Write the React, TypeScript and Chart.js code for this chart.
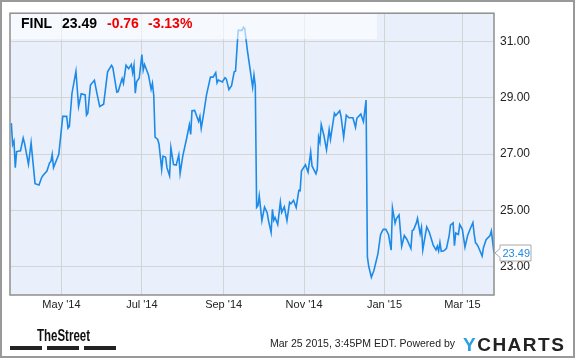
import React, { useEffect, useRef } from "react";
import { Chart, registerables } from "chart.js";

Chart.register(...registerables);

// Day offsets from May 1 2014 (trading-day samples)
const days = [
  -38, -37, -36, -35, -34, -31, -29, -28, -25, -23,
  -20, -17, -15, -14, -11, -9, -8, -7, -6, -2,
  1, 4, 5, 6, 8, 11, 13, 15, 18, 19,
  20, 22, 25, 27, 29, 32, 35, 38, 39, 42,
  43, 46, 47, 49, 51, 53, 54, 55, 56, 57,
  59, 61, 62, 63, 66, 68, 69, 70, 71, 73,
  74, 76, 77, 79, 80, 82, 83, 85, 87, 89,
  90, 92, 95, 97, 98, 99, 101, 104, 105, 106,
  108, 110, 113, 115, 117, 118, 119, 122, 124, 125,
  127, 129, 131, 132, 134, 137, 138, 139, 141, 143,
  145, 146, 147, 148, 149, 150, 152, 154, 156, 157,
  159, 160, 161, 162, 164, 166, 167, 169, 171, 173,
  174, 176, 178, 180, 181, 182, 185, 187, 189, 190,
  193, 194, 195, 196, 197, 199, 201, 203, 204, 207,
  208, 211, 212, 214, 216, 218, 221, 223, 224, 227,
  229, 231, 232, 233, 235, 237, 240, 242, 244, 246,
  248, 250, 251, 253, 254, 256, 257, 258, 260, 262,
  265, 266, 267, 269, 270, 272, 273, 274, 276, 277,
  279, 282, 284, 285, 286, 287, 288, 290, 292, 294,
  295, 297, 298, 299, 301, 302, 304, 306, 308, 310,
  312, 313, 314, 315, 316, 319, 320, 322, 325, 326,
  328,
];

const prices = [
  28.10, 27.34, 27.46, 26.52, 27.09, 27.12, 27.57, 27.39, 26.64, 27.40,
  25.95, 25.90, 26.17, 26.24, 26.40, 26.69, 26.74, 26.99, 26.52, 26.99,
  28.34, 28.34, 27.92, 27.98, 29.16, 29.94, 28.69, 29.14, 29.10, 28.38,
  28.45, 29.45, 29.62, 29.14, 28.69, 28.77, 29.92, 30.15, 30.06, 29.20,
  29.22, 29.68, 29.51, 30.15, 30.03, 30.18, 29.88, 30.15, 29.16, 29.57,
  29.70, 30.53, 29.98, 30.18, 29.81, 29.30, 29.51, 29.09, 27.60, 27.52,
  27.35, 26.46, 26.93, 26.89, 26.52, 26.23, 27.23, 26.63, 26.61, 26.97,
  26.31, 26.93, 27.57, 28.04, 27.70, 28.54, 28.55, 28.16, 28.34, 27.91,
  28.48, 29.10, 29.73, 29.73, 29.89, 29.53, 29.63, 29.56, 29.71, 29.67,
  29.29, 29.43, 29.92, 29.94, 31.39, 31.39, 31.50, 31.45, 30.68, 30.03,
  29.37, 29.80, 29.43, 25.11, 25.17, 25.52, 24.64, 25.12, 24.92, 24.64,
  24.22, 25.04, 24.65, 24.75, 24.50, 25.30, 24.93, 25.13, 24.64, 25.29,
  25.24, 25.36, 25.10, 25.71, 25.70, 26.40, 26.62, 26.36, 27.07, 26.58,
  26.30, 26.47, 27.60, 27.42, 28.05, 27.67, 27.15, 27.87, 27.52, 28.45,
  28.37, 28.54, 28.34, 27.60, 28.38, 28.29, 28.29, 27.95, 28.27, 28.42,
  28.15, 28.92, 23.35, 23.02, 22.63, 22.88, 23.47, 24.15, 24.33, 24.33,
  24.15, 23.59, 25.09, 24.55, 24.71, 24.84, 24.29, 23.73, 24.11, 23.97,
  23.65, 24.29, 24.31, 24.54, 24.72, 24.17, 24.40, 23.60, 24.15, 24.42,
  24.22, 23.76, 23.60, 23.73, 23.56, 23.86, 23.55, 23.57, 23.66, 24.11,
  24.48, 24.56, 23.75, 24.20, 24.15, 24.50, 24.33, 23.70, 24.11, 24.35,
  24.57, 24.15, 23.85, 23.80, 23.72, 23.38, 23.68, 23.96, 24.11, 24.27,
  23.49,
];

const monthTicks = [0, 61, 123, 184, 245, 304];
const monthLabels = ["May '14", "Jul '14", "Sep '14", "Nov '14", "Jan '15", "Mar '15"];
const priceTicks = [23, 25, 27, 29, 31];

const ticker = "FINL";
const lastPrice = "23.49";
const change = "-0.76";
const changePct = "-3.13%";
const stamp = "Mar 25 2015, 3:45PM EDT. Powered by";
const source = "TheStreet";

const FONT = '"Liberation Sans", Arial, sans-serif';
const LINE = "#1e8ae8";

const decorPlugin = {
  id: "decor",
  beforeDraw(chart: any) {
    const { ctx, chartArea: a } = chart;
    ctx.save();
    ctx.fillStyle = "#ffffff";
    ctx.fillRect(0, 0, chart.width, chart.height);
    ctx.fillStyle = "#e9f0fb";
    ctx.fillRect(a.left, a.top, a.right - a.left, a.bottom - a.top);
    ctx.restore();
  },
  afterDatasetsDraw(chart: any) {
    const { ctx, chartArea: a } = chart;
    ctx.save();
    // header band
    ctx.fillStyle = "rgba(255,255,255,0.6)";
    ctx.fillRect(a.left, a.top, 367, 26);
    ctx.textBaseline = "middle";
    ctx.font = "bold 14px " + FONT;
    ctx.fillStyle = "#000";
    ctx.fillText(ticker, 21, 24.5);
    ctx.fillText(lastPrice, 62, 24.5);
    ctx.fillStyle = "#f20000";
    ctx.fillText(change, 107, 24.5);
    ctx.fillText(changePct, 148, 24.5);
    // plot border
    ctx.strokeStyle = "#8f8f8f";
    ctx.lineWidth = 1.5;
    ctx.strokeRect(a.left, a.top, a.right - a.left, a.bottom - a.top);
    ctx.restore();
  },
  afterDraw(chart: any) {
    const { ctx, chartArea: a } = chart;
    const ys = chart.scales.y;
    const yLast = ys.getPixelForValue(prices[prices.length - 1]);
    ctx.save();
    // last price tag
    const tx = a.right + 1;
    ctx.beginPath();
    ctx.moveTo(tx + 5, yLast - 8);
    ctx.lineTo(tx + 36, yLast - 8);
    ctx.lineTo(tx + 36, yLast + 8);
    ctx.lineTo(tx + 5, yLast + 8);
    ctx.lineTo(tx + 5, yLast + 4.5);
    ctx.lineTo(tx, yLast);
    ctx.lineTo(tx + 5, yLast - 4.5);
    ctx.closePath();
    ctx.fillStyle = "#ffffff";
    ctx.fill();
    ctx.strokeStyle = "#a8a8a8";
    ctx.lineWidth = 1;
    ctx.stroke();
    ctx.font = "11px " + FONT;
    ctx.fillStyle = LINE;
    ctx.textBaseline = "middle";
    ctx.fillText(lastPrice, tx + 7.5, yLast + 0.5);

    // footer: TheStreet
    ctx.font = "bold 16px " + FONT;
    ctx.fillStyle = "#111";
    ctx.textBaseline = "alphabetic";
    const w = ctx.measureText(source).width;
    ctx.save();
    ctx.translate(37, 341);
    ctx.scale(53 / w, 1);
    ctx.fillText(source, 0, 0);
    ctx.restore();
    ctx.fillStyle = "#222";
    ctx.fillRect(10, 346, 32, 4);
    ctx.fillRect(47, 346, 32, 4);
    ctx.fillRect(84, 346, 32, 4);

    // timestamp
    ctx.font = "10.5px " + FONT;
    ctx.fillStyle = "#222";
    ctx.textBaseline = "middle";
    ctx.fillText(stamp, 270, 344.5);

    // YCHARTS logo
    ctx.font = "bold 19px " + FONT;
    (ctx as any).letterSpacing = "1.5px";
    ctx.textBaseline = "alphabetic";
    ctx.fillStyle = "#2a9fe4";
    ctx.fillText("Y", 463, 350.5);
    const yw = ctx.measureText("Y").width;
    ctx.fillStyle = "#222";
    ctx.fillText("CHARTS", 463 + yw, 350.5);
    (ctx as any).letterSpacing = "0px";

    // outer frame
    ctx.strokeStyle = "#999";
    ctx.lineWidth = 2;
    ctx.strokeRect(1, 1, chart.width - 2, chart.height - 2);
    ctx.restore();
  },
};

export default function App() {
  const ref = useRef<HTMLCanvasElement | null>(null);
  useEffect(() => {
    if (!ref.current) return;
    const chart = new Chart(ref.current, {
      type: "line",
      data: {
        datasets: [
          {
            data: days.map((d, i) => ({ x: d, y: prices[i] })),
            borderColor: LINE,
            borderWidth: 1.6,
            pointRadius: 0,
            tension: 0,
            fill: false,
          },
        ],
      },
      options: {
        responsive: false,
        animation: false,
        devicePixelRatio: 1,
        layout: { padding: { left: 10, top: 11, right: 0, bottom: 0 } },
        plugins: { legend: { display: false }, tooltip: { enabled: false } },
        scales: {
          x: {
            type: "linear",
            min: -39,
            max: 328,
            afterBuildTicks: (s: any) => {
              s.ticks = monthTicks.map((v) => ({ value: v }));
            },
            afterFit: (s: any) => {
              s.height = 63;
            },
            ticks: {
              autoSkip: false,
              maxRotation: 0,
              padding: 3,
              color: "#222",
              font: { family: FONT, size: 11 },
              callback: (v: any) => {
                const i = monthTicks.indexOf(Number(v));
                return i >= 0 ? monthLabels[i] : "";
              },
            },
            grid: { color: "#d4d4d4", lineWidth: 1, drawTicks: false },
            border: { display: false },
          },
          y: {
            position: "right",
            min: 22,
            max: 32,
            afterBuildTicks: (s: any) => {
              s.ticks = priceTicks.map((v) => ({ value: v }));
            },
            afterFit: (s: any) => {
              s.width = 81;
            },
            ticks: {
              padding: 6,
              color: "#222",
              font: { family: FONT, size: 12 },
              callback: (v: any) => Number(v).toFixed(2),
            },
            grid: { color: "#d4d4d4", lineWidth: 1, drawTicks: false },
            border: { display: false },
          },
        },
      },
      plugins: [decorPlugin],
    } as any);
    return () => chart.destroy();
  }, []);
  return (
    <div style={{ position: "fixed", left: 0, top: 0, width: 575, height: 358, background: "#fff" }}>
      <canvas ref={ref} width={575} height={358} style={{ display: "block" }} />
    </div>
  );
}
